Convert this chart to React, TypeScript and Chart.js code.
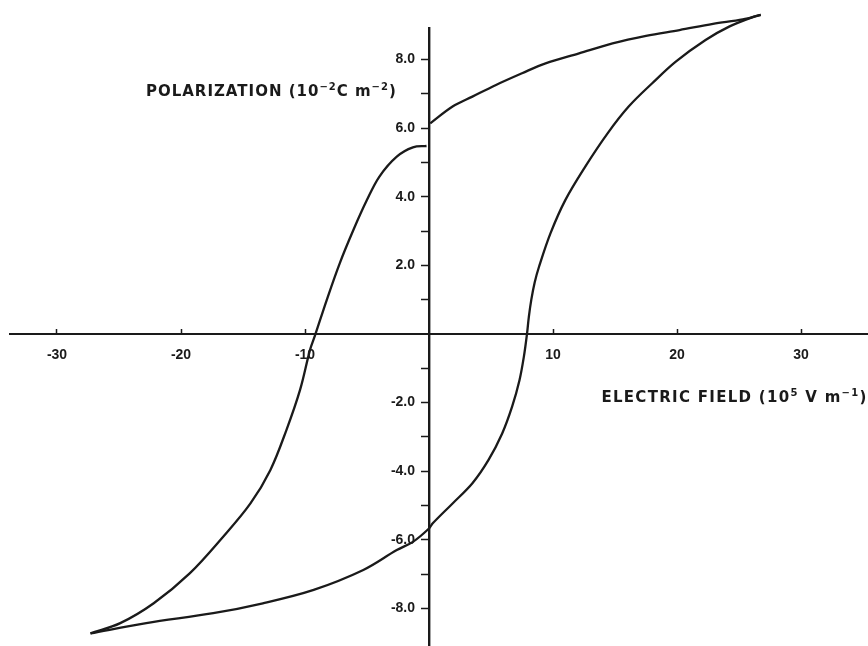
import { useEffect, useRef } from "react";
import { Chart, registerables } from "chart.js";

Chart.register(...registerables);

// Tick values
const xTicks = [-30, -20, -10, 10, 20, 30];
const yTicks = [-8, -7, -6, -5, -4, -3, -2, -1, 1, 2, 3, 4, 5, 6, 7, 8];

// Upper branch, right of the P axis (from the positive tip back to E = 0)
const upperRightE = [26.75, 25.3, 22.9, 20.2, 17.5, 14.8, 12.1, 9.4, 7.5, 5.4, 3.5, 1.9, 0.1];
const upperRightP = [9.3, 9.17, 9.04, 8.86, 8.69, 8.47, 8.18, 7.89, 7.6, 7.26, 6.92, 6.63, 6.14];

// Upper branch, left of the P axis (from E = 0 down to the negative tip)
const upperLeftE = [-0.2, -1.3, -2.6, -4.0, -5.0, -6.1, -7.2, -8.25, -9.2, -9.6, -10.4, -11.5, -12.8, -14.4, -16.6, -19.3, -22.2, -24.9, -27.3];
const upperLeftP = [5.48, 5.44, 5.17, 4.59, 3.91, 3.03, 2.06, 0.99, -0.05, -0.47, -1.63, -2.8, -3.97, -4.94, -5.91, -6.98, -7.85, -8.43, -8.73];

// Lower branch (from the negative tip up to the positive tip)
const lowerE = [-27.3, -22.8, -17.4, -13.4, -9.3, -5.3, -2.6, -1.3, 0, 0.3, 1.9, 3.5, 4.8, 5.9, 6.7, 7.3, 7.65, 7.9, 8.05, 8.25, 8.52, 8.87, 9.8, 11.0, 12.6, 14.4, 16.1, 18.0, 19.9, 22.3, 24.2, 26.2, 26.75];
const lowerP = [-8.73, -8.43, -8.14, -7.85, -7.46, -6.88, -6.3, -6.06, -5.67, -5.52, -4.94, -4.35, -3.67, -2.9, -2.12, -1.34, -0.66, 0.0, 0.5, 1.0, 1.5, 1.96, 2.94, 3.91, 4.88, 5.85, 6.63, 7.31, 7.94, 8.57, 8.96, 9.25, 9.3];

// Axis titles (text, superscript?)
const yTitleParts: [string, boolean][] = [["POLARIZATION (10", false], ["\u22122", true], ["C m", false], ["\u22122", true], [")", false]];
const xTitleParts: [string, boolean][] = [["ELECTRIC FIELD (10", false], ["5", true], [" V m", false], ["\u22121", true], [")", false]];

const INK = "#1a1a1a";
const X_MIN = -33.79;
const X_MAX = 35.4;
const Y_MIN = -9.096;
const Y_MAX = 8.92;

function drawRich(ctx: CanvasRenderingContext2D, parts: [string, boolean][], x: number, y: number, align: "left" | "right", spacing: number) {
  ctx.save();
  ctx.fillStyle = INK;
  ctx.textBaseline = "alphabetic";
  ctx.textAlign = "left";
  const main = 'bold 15px "DejaVu Sans"';
  const sup = 'bold 10px "DejaVu Sans"';
  (ctx as any).letterSpacing = spacing + "px";
  let total = 0;
  for (const [t, s] of parts) {
    ctx.font = s ? sup : main;
    total += ctx.measureText(t).width;
  }
  let cx = align === "left" ? x : x - total;
  const base = y + 5.5;
  for (const [t, s] of parts) {
    ctx.font = s ? sup : main;
    ctx.fillText(t, cx, s ? base - 6 : base);
    cx += ctx.measureText(t).width;
  }
  ctx.restore();
}

export default function App() {
  const ref = useRef<HTMLCanvasElement>(null);

  useEffect(() => {
    const canvas = ref.current;
    if (!canvas) return;
    const pts = (xs: number[], ys: number[]) => xs.map((x, i) => ({ x, y: ys[i] }));

    const bg = {
      id: "bg",
      beforeDraw(chart: any) {
        const c = chart.ctx;
        c.save();
        c.fillStyle = "#ffffff";
        c.fillRect(0, 0, chart.width, chart.height);
        c.restore();
      },
    };

    const titles = {
      id: "axisTitles",
      afterDraw(chart: any) {
        const { x, y } = chart.scales;
        drawRich(chart.ctx, yTitleParts, x.getPixelForValue(-2.6), y.getPixelForValue(7.1), "right", 1);
        drawRich(chart.ctx, xTitleParts, x.getPixelForValue(13.9), y.getPixelForValue(-1.81), "left", 1.3);
      },
    };

    const lineStyle = {
      showLine: true,
      borderColor: INK,
      borderWidth: 2.3,
      pointRadius: 0,
      tension: 0.35,
      fill: false,
      clip: false as any,
    };

    const zeroFit = (s: any) => {
      s.paddingLeft = 0;
      s.paddingRight = 0;
      s.paddingTop = 0;
      s.paddingBottom = 0;
    };

    const tickFont = { family: '"Liberation Sans", Arial, sans-serif', size: 14, weight: "bold" as const };

    const chart = new Chart(canvas, {
      type: "scatter",
      data: {
        datasets: [
          { ...lineStyle, data: pts(upperRightE, upperRightP) },
          { ...lineStyle, data: pts(upperLeftE, upperLeftP) },
          { ...lineStyle, data: pts(lowerE, lowerP) },
        ],
      },
      options: {
        animation: false,
        responsive: false,
        layout: { padding: { left: 10, top: 28, right: 0, bottom: 0 } },
        plugins: {
          legend: { display: false },
          tooltip: { enabled: false },
        },
        scales: {
          x: {
            type: "linear",
            min: X_MIN,
            max: X_MAX,
            position: { y: 0 } as any,
            afterFit: (s: any) => {
              s.height = 0;
              zeroFit(s);
            },
            afterBuildTicks: (s: any) => {
              s.ticks = xTicks.map((value) => ({ value }));
            },
            grid: {
              drawOnChartArea: false,
              drawTicks: true,
              tickLength: -6,
              tickColor: INK,
              tickWidth: 1.5,
            },
            border: { display: true, color: INK, width: 2 },
            ticks: {
              padding: 19,
              color: INK,
              font: tickFont,
              callback: (v: any) => String(v),
            },
          },
          y: {
            type: "linear",
            min: Y_MIN,
            max: Y_MAX,
            position: { x: 0 } as any,
            afterFit: (s: any) => {
              s.width = 0;
              zeroFit(s);
            },
            afterBuildTicks: (s: any) => {
              s.ticks = yTicks.map((value) => ({ value }));
            },
            grid: {
              drawOnChartArea: false,
              drawTicks: true,
              tickLength: 7,
              tickColor: INK,
              tickWidth: 1.5,
            },
            border: { display: true, color: INK, width: 2.4 },
            ticks: {
              padding: 4,
              color: INK,
              font: tickFont,
              callback: (v: any) => (Math.abs(v) % 2 === 0 ? Number(v).toFixed(1) + "\u2002\u2002" : ""),
            },
          },
        },
      },
      plugins: [bg, titles],
    });

    return () => chart.destroy();
  }, []);

  return (
    <div style={{ position: "fixed", left: 0, top: 0, width: 868, height: 646, background: "#fff" }}>
      <canvas ref={ref} width={868} height={646} style={{ display: "block" }} />
    </div>
  );
}
